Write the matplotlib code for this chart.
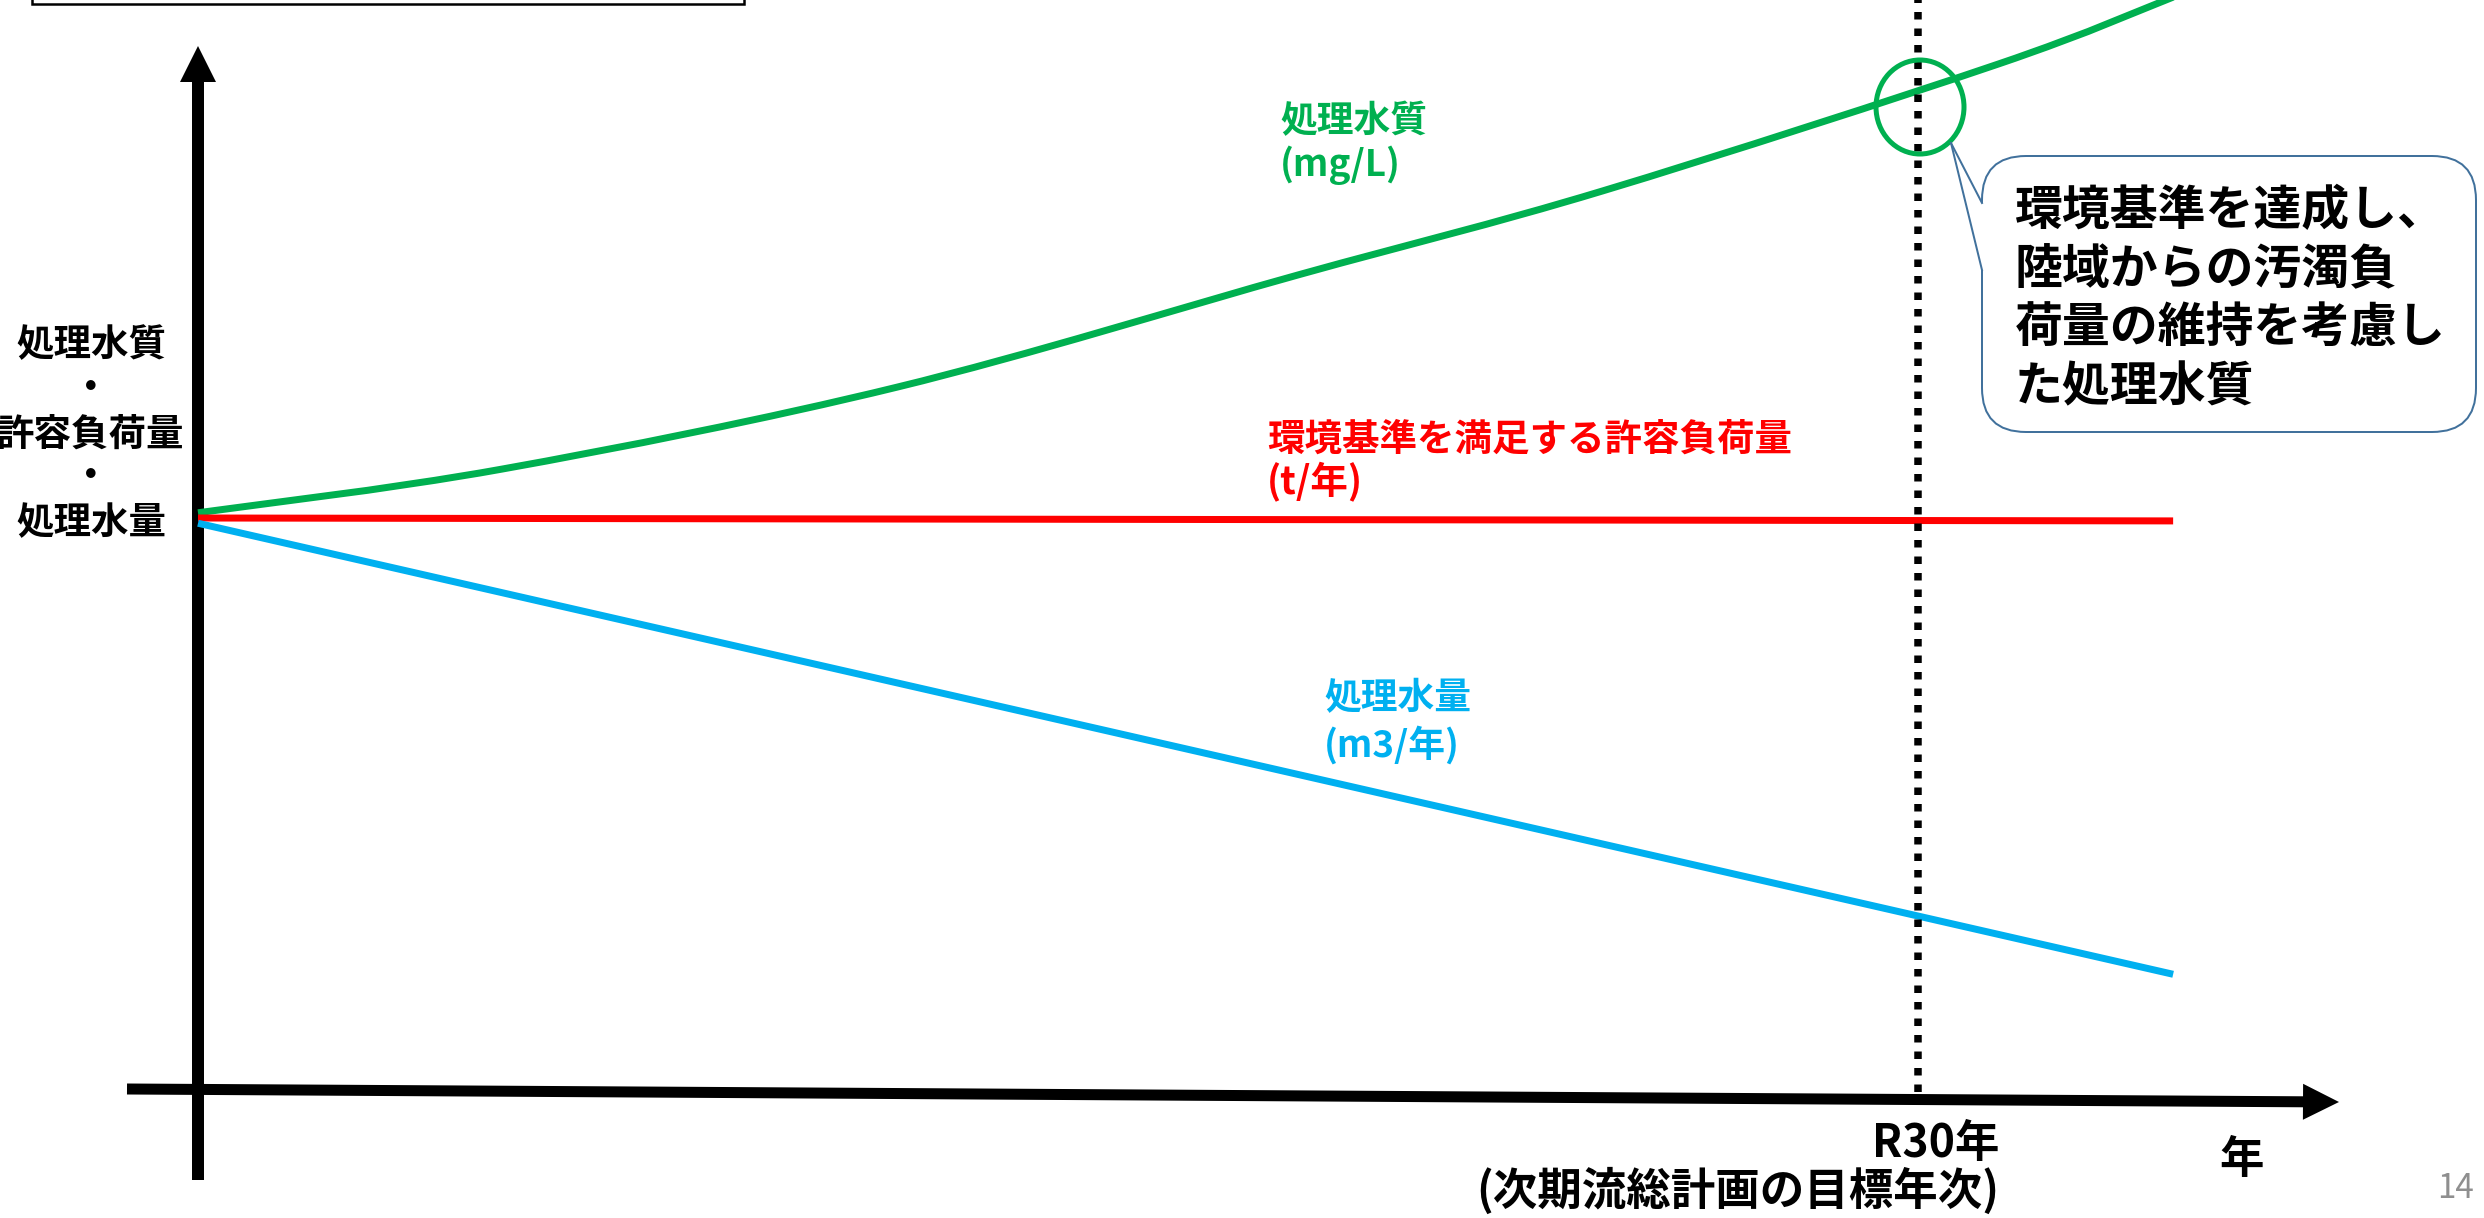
import matplotlib
matplotlib.use("Agg")
import matplotlib.pyplot as plt
from matplotlib.patches import (FancyArrow, Ellipse, FancyBboxPatch, Polygon,
                                Rectangle, PathPatch)
from matplotlib.path import Path
from matplotlib.transforms import Affine2D

plt.rcParams['font.family'] = ['Noto Sans CJK JP', 'DejaVu Sans']

# ---- data -------------------------------------------------------------
# years counted from the start of the plan; the target year R30 sits at 30
YEARS = [0, 5.3, 12.2, 19.2, 24.5, 31.4, 34.45]
QUALITY = [100.9, 108.4, 122.5, 141.8, 156.2, 178.0, 189.5]   # 処理水質 (index)
TREND_YEARS = [0, 34.45]
ALLOWED_LOAD = [100.0, 99.5]                                  # 許容負荷量 (index)
VOLUME = [99.1, 21.6]                                         # 処理水量 (index)
TARGET_YEAR = 30

Y_AXIS_LABELS = ["処理水質", "・", "許容負荷量", "・", "処理水量"]
QUALITY_LABEL = ["処理水質", "(mg/L)"]
LOAD_LABEL = ["環境基準を満足する許容負荷量", "(t/年)"]
VOLUME_LABEL = ["処理水量", "(m3/年)"]
TARGET_LABEL = ["R30年", "(次期流総計画の目標年次)"]
X_AXIS_LABEL = "年"
CALLOUT_LINES = ["環境基準を達成し、", "陸域からの汚濁負", "荷量の維持を考慮し", "た処理水質"]
PAGE_NO = "14"

GREEN = "#00B050"
RED = "#FF0000"
BLUE = "#00B0F0"
CALLOUT_EDGE = "#41719C"

# ---- canvas -----------------------------------------------------------
W, H = 2484, 1218
DPI = 100
fig = plt.figure(figsize=(W / DPI, H / DPI), dpi=DPI)
fig.patch.set_facecolor("white")

# chart scale: origin of the axes and size of one unit in output pixels
X0_PX, PX_PER_YEAR = 198, 1720 / 30
Y0_PX, PX_PER_UNIT = 1100, 5.82

ax = fig.add_axes([0, 0, 1, 1])
ax.set_xlim(-X0_PX / PX_PER_YEAR, (W - X0_PX) / PX_PER_YEAR)
ax.set_ylim((Y0_PX - H) / PX_PER_UNIT, Y0_PX / PX_PER_UNIT)
ax.axis("off")

# pixel coordinates measured from the top-left corner
PIX = Affine2D().scale(1, -1).translate(0, H)


def px_to_y(py):
    return (Y0_PX - py) / PX_PER_UNIT


def smooth_path(xs, ys):
    """Bezier path passing through every point (Catmull-Rom tangents)."""
    pts = list(zip(xs, ys))
    ext = [pts[0]] + pts + [pts[-1]]
    verts, codes = [pts[0]], [Path.MOVETO]
    for i in range(1, len(ext) - 2):
        p0, p1, p2, p3 = ext[i - 1], ext[i], ext[i + 1], ext[i + 2]
        c1 = (p1[0] + (p2[0] - p0[0]) / 6, p1[1] + (p2[1] - p0[1]) / 6)
        c2 = (p2[0] - (p3[0] - p1[0]) / 6, p2[1] - (p3[1] - p1[1]) / 6)
        verts += [c1, c2, p2]
        codes += [Path.CURVE4] * 3
    return Path(verts, codes)


# title box at the top edge
ax.add_patch(Rectangle((32, -30), 712, 34, transform=PIX, fc="white",
                       ec="black", lw=1.8, zorder=1))

# axis arrows
ax.add_patch(FancyArrow(198, 1180, 0, 46 - 1180, width=12, head_width=36,
                        head_length=36, length_includes_head=True,
                        transform=PIX, fc="black", ec="none", zorder=1))
ax.add_patch(FancyArrow(127, 1089, 2339 - 127, 1102 - 1089, width=11,
                        head_width=36, head_length=36, length_includes_head=True,
                        transform=PIX, fc="black", ec="none", zorder=1))

# series
lw_series = 7 * 72 / DPI
ax.add_patch(PathPatch(smooth_path(YEARS, QUALITY), fc="none", ec=GREEN,
                       lw=lw_series, capstyle="butt", zorder=3))
ax.plot(TREND_YEARS, ALLOWED_LOAD, color=RED, lw=lw_series, solid_capstyle="butt", zorder=3)
ax.plot(TREND_YEARS, VOLUME, color=BLUE, lw=lw_series, solid_capstyle="butt", zorder=3)

# target-year marker
ax.plot([TARGET_YEAR, TARGET_YEAR], [px_to_y(1092), px_to_y(-5)], color="black",
        lw=7.5 * 72 / DPI, linestyle=(0, (1.0, 1.2)), dash_capstyle="butt", zorder=4)

# highlight circle on the quality curve
ax.add_patch(Ellipse((1920, 107), 88, 94, transform=PIX, fc="none", ec=GREEN,
                     lw=5 * 72 / DPI, zorder=5))

# callout balloon
ax.add_patch(FancyBboxPatch((1982, 156), 494, 276,
                            boxstyle="round,pad=0,rounding_size=44",
                            transform=PIX, fc="white", ec=CALLOUT_EDGE,
                            lw=2 * 72 / DPI, zorder=6))
tip, b1, b2 = (1951, 143), (1982, 203), (1982, 270)
ax.add_patch(Polygon([tip, b1, (1987, 203), (1987, 270), b2], closed=True,
                     transform=PIX, fc="white", ec="none", zorder=7))
for b in (b1, b2):
    ax.plot([tip[0], b[0]], [tip[1], b[1]], transform=PIX, color=CALLOUT_EDGE,
            lw=2 * 72 / DPI, zorder=8)

for i, line in enumerate(CALLOUT_LINES):
    ax.text(2015, 211 + 58.5 * i, line, transform=PIX, fontsize=34.5,
            fontweight="bold", color="black", ha="left", va="center", zorder=9)

# y-axis caption
for y, s in zip([345, 388, 434, 477, 523], Y_AXIS_LABELS):
    ax.text(91, y, s, transform=PIX, fontsize=27, fontweight="bold",
            color="black", ha="center", va="center")


# series captions
def caption(x, ys, lines, color, size):
    for y, s in zip(ys, lines):
        ax.text(x, y, s, transform=PIX, fontsize=size, fontweight="bold",
                color=color, ha="left", va="center", zorder=9)


caption(1280, [122, 165], QUALITY_LABEL, GREEN, 26.5)
caption(1267, [439, 482], LOAD_LABEL, RED, 27)
caption(1324, [699, 745], VOLUME_LABEL, BLUE, 26.5)

# x-axis captions
for y, s in zip([1144, 1191], TARGET_LABEL):
    ax.text(1999, y, s, transform=PIX, fontsize=32, fontweight="bold",
            color="black", ha="right", va="center")
ax.text(2242, 1160, X_AXIS_LABEL, transform=PIX, fontsize=32, fontweight="bold",
        color="black", ha="center", va="center")

ax.text(2474, 1189, PAGE_NO, transform=PIX, fontsize=24, color="#8F8F8F",
        ha="right", va="center")

fig.savefig("out.png", dpi=DPI, facecolor="white")
